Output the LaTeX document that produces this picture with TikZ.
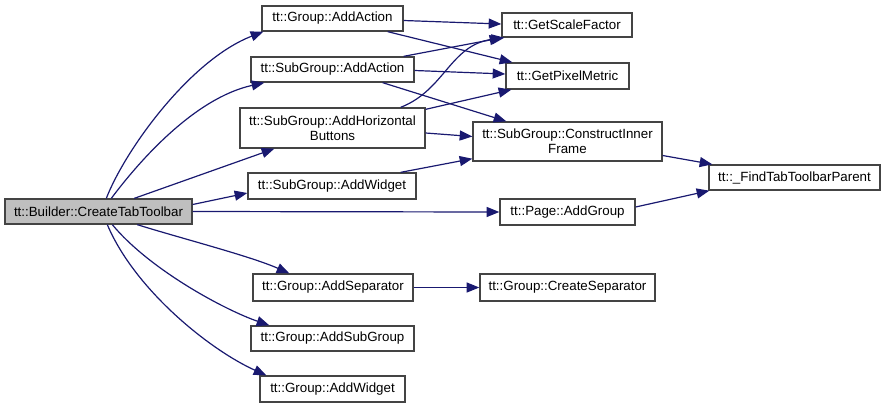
\documentclass[tikz,border=0pt]{standalone}
\usepackage{fontspec}
\setmainfont{Liberation Sans}
\usetikzlibrary{arrows.meta,calc}
\definecolor{edgec}{HTML}{191970}
\definecolor{boxc}{HTML}{444444}
\definecolor{mainfill}{HTML}{BFBFBF}
\tikzset{
  box/.style={draw=boxc, line width=1pt, fill=white, inner sep=0pt, align=center,
    font=\fontsize{10}{11.5}\selectfont},
  wh/.style 2 args={minimum width=#1*0.75pt, minimum height=#2*0.75pt},
  edge/.style={draw=edgec, line width=0.9pt, -{Triangle[length=9.5pt,width=7.5pt]}},
}
\begin{document}
\begin{tikzpicture}[x=0.75pt,y=-0.75pt]
\useasboundingbox (0,0) rectangle (885,408);
% nodes
\node[box, fill=mainfill, wh={187}{25}] (main) at (98.5,211.5) {tt::Builder::CreateTabToolbar};
\node[box, wh={141}{25}] (gaa) at (332.5,18.5) {tt::Group::AddAction};
\node[box, wh={163}{25}] (saa) at (332.5,69.5) {tt::SubGroup::AddAction};
\node[box, wh={185}{40}] (ahb) at (332.5,128) {tt::SubGroup::AddHorizontal\\Buttons};
\node[box, wh={168}{26}] (saw) at (332,186) {tt::SubGroup::AddWidget};
\node[box, wh={130}{24}] (gsf) at (567,25) {tt::GetScaleFactor};
\node[box, wh={123}{26}] (gpm) at (567.5,76) {tt::GetPixelMetric};
\node[box, wh={189}{39}] (cif) at (567.5,141.5) {tt::SubGroup::ConstructInner\\Frame};
\node[box, wh={171}{25}] (ftp) at (794.5,177.5) {tt::\_FindTabToolbarParent};
\node[box, wh={135}{26}] (pag) at (567.5,212) {tt::Page::AddGroup};
\node[box, wh={160}{27}] (asp) at (333,287.5) {tt::Group::AddSeparator};
\node[box, wh={175}{27}] (csp) at (567.5,287.5) {tt::Group::CreateSeparator};
\node[box, wh={163}{25}] (asg) at (332.5,338.5) {tt::Group::AddSubGroup};
\node[box, wh={145}{26}] (gaw) at (332.5,389) {tt::Group::AddWidget};
% edges from main
\draw[edge] ($(main.north west)+(102,0)$) .. controls (125,150) and (190,60) .. ($(gaa.south west)+(2,0)$);
\draw[edge] ($(main.north west)+(107,0)$) .. controls (140,160) and (195,98) .. ($(saa.south west)+(14,0)$);
\draw[edge] ($(main.north west)+(130,0)$) -- ($(ahb.south west)+(35,0)$);
\draw[edge] ($(main.east)+(0,-7)$) -- ($(saw.west)+(0,7)$);
\draw[edge] (main.east) -- (pag.west);
\draw[edge] ($(main.south west)+(133,0)$) .. controls (180,238) and (250,256) .. ($(asp.north west)+(37,0)$);
\draw[edge] ($(main.south west)+(108,0)$) .. controls (150,270) and (225,310) .. ($(asg.north west)+(19,0)$);
\draw[edge] ($(main.south west)+(103,0)$) .. controls (135,290) and (210,350) .. ($(gaw.north west)+(7,0)$);
% middle edges
\draw[edge] ($(gaa.east)+(0,2)$) -- ($(gsf.west)+(0,-1)$);
\draw[edge] ($(gaa.south east)+(-16,0)$) -- ($(gpm.north west)+(7,0)$);
\draw[edge] ($(saa.north east)+(-11,0)$) -- ($(gsf.south west)+(1,0)$);
\draw[edge] ($(saa.east)+(0,1)$) -- ($(gpm.west)+(0,-2)$);
\draw[edge] ($(saa.south east)+(-32,0)$) -- ($(cif.north west)+(34,0)$);
\draw[edge] ($(ahb.north east)+(-25,0)$) .. controls (445,90) and (450,45) .. ($(gsf.south west)+(3,0)$);
\draw[edge] ($(ahb.north east)+(0,2)$) -- ($(gpm.south west)+(6,0)$);
\draw[edge] ($(ahb.east)+(0,5)$) -- ($(cif.west)+(0,-5)$);
\draw[edge] ($(saw.north east)+(-16,0)$) -- ($(cif.south west)+(0,-3)$);
\draw[edge] ($(cif.east)+(0,14)$) -- ($(ftp.north west)+(4,0)$);
\draw[edge] ($(pag.east)+(0,-5)$) -- ($(ftp.south west)+(1,0)$);
\draw[edge] (asp) -- (csp);
\end{tikzpicture}
\end{document}
